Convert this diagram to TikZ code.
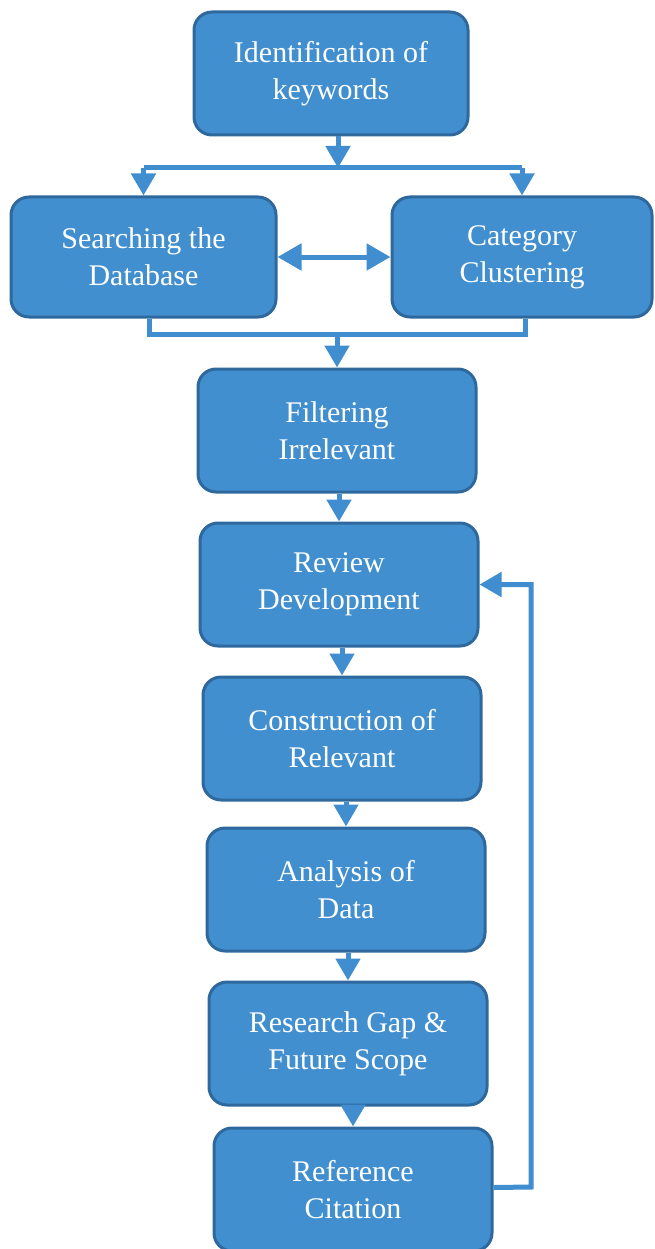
\documentclass[tikz,border=0pt]{standalone}
\usepackage{fontspec}
\setmainfont{Liberation Serif}
\usetikzlibrary{arrows.meta}
\definecolor{boxfill}{RGB}{66,143,207}
\definecolor{boxline}{RGB}{46,104,156}
\definecolor{conncol}{RGB}{64,142,208}
\tikzset{
  stepbox/.style={draw=boxline, line width=3pt, fill=boxfill, rounded corners=18pt,
    text=white, align=center, font=\fontsize{30}{37}\selectfont, inner sep=0pt},
  conn/.style={draw=conncol, line width=5pt},
  tip/.style={-{Triangle[width=24pt,length=22pt]}},
}
\begin{document}
\begin{tikzpicture}[x=1pt,y=1pt]
\useasboundingbox (0,0) rectangle (654,-1249);
\node[stepbox, minimum width=274pt, minimum height=123pt] (ident) at (331,-73.5) {Identification of\\keywords};
\node[stepbox, minimum width=265pt, minimum height=120pt] (search) at (143.5,-257) {Searching the\\Database};
\node[stepbox, minimum width=260pt, minimum height=120pt] (cat) at (522,-257) {Category\\Clustering};
\node[stepbox, minimum width=278pt, minimum height=123pt] (filter) at (337,-430.5) {Filtering\\Irrelevant};
\node[stepbox, minimum width=278pt, minimum height=123pt] (review) at (339,-584.5) {Review\\Development};
\node[stepbox, minimum width=278pt, minimum height=123pt] (constr) at (342,-738.5) {Construction of\\Relevant};
\node[stepbox, minimum width=278pt, minimum height=123pt] (analysis) at (346,-889.5) {Analysis of\\Data};
\node[stepbox, minimum width=278pt, minimum height=123pt] (gap) at (348,-1043.5) {Research Gap \&\\Future Scope};
\node[stepbox, minimum width=278pt, minimum height=123pt] (ref) at (353,-1189.5) {Reference\\Citation};

% split from identification
\coordinate (jt) at (338,-168);
\draw[conn, tip] ([xshift=7pt]ident.south) -- (jt);
\draw[conn] (search.north |- jt) -- (cat.north |- jt);
\draw[conn, tip] (search.north |- jt) -- (search.north);
\draw[conn, tip] (cat.north |- jt) -- (cat.north);

% double arrow
\draw[conn, {Triangle[width=26pt,length=24pt]}-{Triangle[width=26pt,length=24pt]}] (search.east) -- (cat.west);

% merge bracket
\coordinate (jb) at (338,-334);
\draw[conn] ([xshift=6pt]search.south) |- (jb) -| ([xshift=3pt]cat.south);
\draw[conn, tip] (filter.north |- jb) -- (filter.north);

% chain
\draw[conn, tip] (review.north |- filter.south) -- (review.north);
\draw[conn, tip] (constr.north |- review.south) -- (constr.north);
\draw[conn, tip] (analysis.north |- constr.south) -- (analysis.north);
\draw[conn, tip] (gap.north |- analysis.south) -- (gap.north);
\draw[conn, tip] (ref.north |- gap.south) -- (ref.north);

% feedback loop
\coordinate (fb) at (531,-1187);
\draw[conn, tip] ([yshift=2pt]ref.east) -- (fb) |- (review.east);
\end{tikzpicture}
\end{document}
